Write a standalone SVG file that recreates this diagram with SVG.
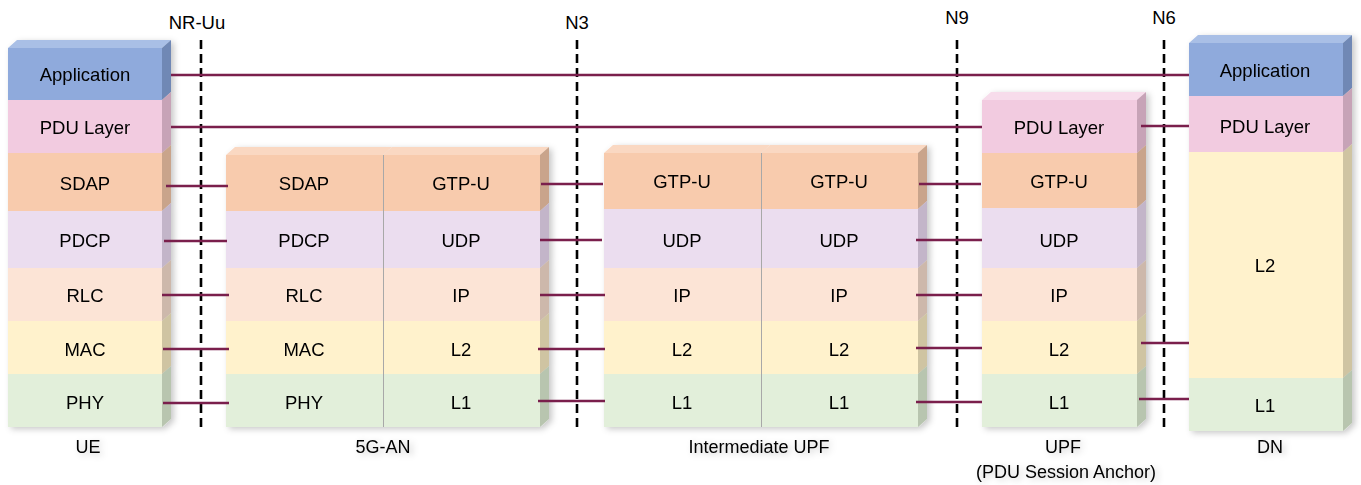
<svg xmlns="http://www.w3.org/2000/svg" width="1361" height="485" viewBox="0 0 1361 485">
<defs>
<filter id="sh" x="-10%" y="-10%" width="130%" height="130%">
<feDropShadow dx="3" dy="2" stdDeviation="3" flood-color="#000" flood-opacity="0.22"/>
</filter>
</defs>
<style>
text{font-family:"Liberation Sans",Arial,sans-serif;font-size:18.5px;fill:#000;text-anchor:middle}
.lbl{font-size:18px}
.app .f{fill:#8FAADC}.app .t{fill:#A9BFE6}.app .s{fill:#6F88B5}
.pdu .f{fill:#F2CBE0}.pdu .t{fill:#F7DCEB}.pdu .s{fill:#C7A3B7}
.sdap .f{fill:#F8CBAD}.sdap .t{fill:#FAD8C2}.sdap .s{fill:#C9A48B}
.pdcp .f{fill:#EBDDEF}.pdcp .t{fill:#F2E8F4}.pdcp .s{fill:#C3B5C9}
.rlc .f{fill:#FCE4D6}.rlc .t{fill:#FDEDE4}.rlc .s{fill:#CDB8AB}
.mac .f{fill:#FFF2CC}.mac .t{fill:#FFF7DE}.mac .s{fill:#CFC4A2}
.phy .f{fill:#E2EFDA}.phy .t{fill:#ECF4E6}.phy .s{fill:#B8C5AF}
.div{stroke:#A8A8A8;stroke-width:1}
.dash{stroke:#000;stroke-width:2.6;stroke-dasharray:9 5;fill:none}
.c{stroke:#7A1F4C;stroke-width:2.6;fill:none}
</style>

<g id="interfaces">
<line class="dash" x1="201" y1="40" x2="201" y2="427"/>
<line class="dash" x1="577" y1="40" x2="577" y2="427"/>
<line class="dash" x1="957" y1="40" x2="957" y2="427"/>
<line class="dash" x1="1164" y1="40" x2="1164" y2="427"/>
<text x="197" y="29">NR-Uu</text>
<text x="577" y="29">N3</text>
<text x="957" y="24">N9</text>
<text x="1164" y="24">N6</text>
</g>

<g id="UE" filter="url(#sh)">
<g id="ue-app" class="app">
<polygon class="t" points="8,48 17,40 171,40 162,48"/>
<rect class="f" x="8" y="48" width="154" height="52"/>
<polygon class="s" points="162,48 171,40 171,92 162,100"/>
<text x="85" y="81">Application</text>
</g>
<g id="ue-pdu" class="pdu">
<rect class="f" x="8" y="100" width="154" height="53"/>
<polygon class="s" points="162,100 171,92 171,145 162,153"/>
<text x="85" y="134">PDU Layer</text>
</g>
<g id="ue-sdap" class="sdap">
<rect class="f" x="8" y="153" width="154" height="58"/>
<polygon class="s" points="162,153 171,145 171,203 162,211"/>
<text x="85" y="190">SDAP</text>
</g>
<g id="ue-pdcp" class="pdcp">
<rect class="f" x="8" y="211" width="154" height="57"/>
<polygon class="s" points="162,211 171,203 171,260 162,268"/>
<text x="85" y="247">PDCP</text>
</g>
<g id="ue-rlc" class="rlc">
<rect class="f" x="8" y="268" width="154" height="53"/>
<polygon class="s" points="162,268 171,260 171,313 162,321"/>
<text x="85" y="302">RLC</text>
</g>
<g id="ue-mac" class="mac">
<rect class="f" x="8" y="321" width="154" height="53"/>
<polygon class="s" points="162,321 171,313 171,366 162,374"/>
<text x="85" y="356">MAC</text>
</g>
<g id="ue-phy" class="phy">
<rect class="f" x="8" y="374" width="154" height="53"/>
<polygon class="s" points="162,374 171,366 171,419 162,427"/>
<text x="85" y="409">PHY</text>
</g>
<text class="lbl" x="88" y="453">UE</text>
</g>

<g id="AN" filter="url(#sh)">
<g id="an-sdap" class="sdap">
<polygon class="t" points="226,155 235,147 392,147 383,155"/>
<rect class="f" x="226" y="155" width="157" height="56"/>
<text x="304" y="190">SDAP</text>
</g>
<g id="an-pdcp" class="pdcp">
<rect class="f" x="226" y="211" width="157" height="57"/>
<text x="304" y="247">PDCP</text>
</g>
<g id="an-rlc" class="rlc">
<rect class="f" x="226" y="268" width="157" height="53"/>
<text x="304" y="302">RLC</text>
</g>
<g id="an-mac" class="mac">
<rect class="f" x="226" y="321" width="157" height="53"/>
<text x="304" y="356">MAC</text>
</g>
<g id="an-phy" class="phy">
<rect class="f" x="226" y="374" width="157" height="53"/>
<text x="304" y="409">PHY</text>
</g>
<g id="an-gtpu" class="sdap">
<polygon class="t" points="383,155 392,147 549,147 540,155"/>
<rect class="f" x="383" y="155" width="157" height="56"/>
<polygon class="s" points="540,155 549,147 549,203 540,211"/>
<text x="461" y="190">GTP-U</text>
</g>
<g id="an-udp" class="pdcp">
<rect class="f" x="383" y="211" width="157" height="57"/>
<polygon class="s" points="540,211 549,203 549,260 540,268"/>
<text x="461" y="247">UDP</text>
</g>
<g id="an-ip" class="rlc">
<rect class="f" x="383" y="268" width="157" height="53"/>
<polygon class="s" points="540,268 549,260 549,313 540,321"/>
<text x="461" y="302">IP</text>
</g>
<g id="an-l2" class="mac">
<rect class="f" x="383" y="321" width="157" height="53"/>
<polygon class="s" points="540,321 549,313 549,366 540,374"/>
<text x="461" y="356">L2</text>
</g>
<g id="an-l1" class="phy">
<rect class="f" x="383" y="374" width="157" height="53"/>
<polygon class="s" points="540,374 549,366 549,419 540,427"/>
<text x="461" y="409">L1</text>
</g>
<line class="div" x1="383.5" y1="155" x2="383.5" y2="427"/>
<text class="lbl" x="383" y="453">5G-AN</text>
</g>

<g id="IUPF" filter="url(#sh)">
<g id="iu-gtpu1" class="sdap">
<polygon class="t" points="604,153 613,145 770,145 761,153"/>
<rect class="f" x="604" y="153" width="157" height="56"/>
<text x="682" y="188">GTP-U</text>
</g>
<g id="iu-udp1" class="pdcp">
<rect class="f" x="604" y="209" width="157" height="59"/>
<text x="682" y="247">UDP</text>
</g>
<g id="iu-ip1" class="rlc">
<rect class="f" x="604" y="268" width="157" height="53"/>
<text x="682" y="302">IP</text>
</g>
<g id="iu-l21" class="mac">
<rect class="f" x="604" y="321" width="157" height="53"/>
<text x="682" y="356">L2</text>
</g>
<g id="iu-l11" class="phy">
<rect class="f" x="604" y="374" width="157" height="53"/>
<text x="682" y="409">L1</text>
</g>
<g id="iu-gtpu2" class="sdap">
<polygon class="t" points="761,153 770,145 927,145 918,153"/>
<rect class="f" x="761" y="153" width="157" height="56"/>
<polygon class="s" points="918,153 927,145 927,201 918,209"/>
<text x="839" y="188">GTP-U</text>
</g>
<g id="iu-udp2" class="pdcp">
<rect class="f" x="761" y="209" width="157" height="59"/>
<polygon class="s" points="918,209 927,201 927,260 918,268"/>
<text x="839" y="247">UDP</text>
</g>
<g id="iu-ip2" class="rlc">
<rect class="f" x="761" y="268" width="157" height="53"/>
<polygon class="s" points="918,268 927,260 927,313 918,321"/>
<text x="839" y="302">IP</text>
</g>
<g id="iu-l22" class="mac">
<rect class="f" x="761" y="321" width="157" height="53"/>
<polygon class="s" points="918,321 927,313 927,366 918,374"/>
<text x="839" y="356">L2</text>
</g>
<g id="iu-l12" class="phy">
<rect class="f" x="761" y="374" width="157" height="53"/>
<polygon class="s" points="918,374 927,366 927,419 918,427"/>
<text x="839" y="409">L1</text>
</g>
<line class="div" x1="761.5" y1="153" x2="761.5" y2="427"/>
<text class="lbl" x="759" y="453">Intermediate UPF</text>
</g>

<g id="UPF" filter="url(#sh)">
<g id="upf-pdu" class="pdu">
<polygon class="t" points="982,100 991,92 1146,92 1137,100"/>
<rect class="f" x="982" y="100" width="155" height="53"/>
<polygon class="s" points="1137,100 1146,92 1146,145 1137,153"/>
<text x="1059" y="134">PDU Layer</text>
</g>
<g id="upf-gtpu" class="sdap">
<rect class="f" x="982" y="153" width="155" height="55"/>
<polygon class="s" points="1137,153 1146,145 1146,200 1137,208"/>
<text x="1059" y="188">GTP-U</text>
</g>
<g id="upf-udp" class="pdcp">
<rect class="f" x="982" y="208" width="155" height="60"/>
<polygon class="s" points="1137,208 1146,200 1146,260 1137,268"/>
<text x="1059" y="247">UDP</text>
</g>
<g id="upf-ip" class="rlc">
<rect class="f" x="982" y="268" width="155" height="53"/>
<polygon class="s" points="1137,268 1146,260 1146,313 1137,321"/>
<text x="1059" y="302">IP</text>
</g>
<g id="upf-l2" class="mac">
<rect class="f" x="982" y="321" width="155" height="53"/>
<polygon class="s" points="1137,321 1146,313 1146,366 1137,374"/>
<text x="1059" y="356">L2</text>
</g>
<g id="upf-l1" class="phy">
<rect class="f" x="982" y="374" width="155" height="53"/>
<polygon class="s" points="1137,374 1146,366 1146,419 1137,427"/>
<text x="1059" y="409">L1</text>
</g>
<text class="lbl" x="1063" y="453">UPF</text>
<text class="lbl" x="1066" y="478">(PDU Session Anchor)</text>
</g>

<g id="DN" filter="url(#sh)">
<g id="dn-app" class="app">
<polygon class="t" points="1189,43 1198,35 1352,35 1343,43"/>
<rect class="f" x="1189" y="43" width="154" height="53"/>
<polygon class="s" points="1343,43 1352,35 1352,88 1343,96"/>
<text x="1265" y="77">Application</text>
</g>
<g id="dn-pdu" class="pdu">
<rect class="f" x="1189" y="96" width="154" height="56"/>
<polygon class="s" points="1343,96 1352,88 1352,144 1343,152"/>
<text x="1265" y="133">PDU Layer</text>
</g>
<g id="dn-l2" class="mac">
<rect class="f" x="1189" y="152" width="154" height="226"/>
<polygon class="s" points="1343,152 1352,144 1352,370 1343,378"/>
<text x="1265" y="272">L2</text>
</g>
<g id="dn-l1" class="phy">
<rect class="f" x="1189" y="378" width="154" height="53"/>
<polygon class="s" points="1343,378 1352,370 1352,423 1343,431"/>
<text x="1265" y="412">L1</text>
</g>
<text class="lbl" x="1270" y="453">DN</text>
</g>

<g id="connectors">
<line class="c" x1="171" y1="75" x2="1189" y2="75"/>
<line class="c" x1="171" y1="127" x2="982" y2="127"/>
<line class="c" x1="1141" y1="126" x2="1189" y2="126"/>
<line class="c" x1="166" y1="186" x2="228" y2="186"/>
<line class="c" x1="164" y1="241" x2="227" y2="241"/>
<line class="c" x1="162" y1="295" x2="229" y2="295"/>
<line class="c" x1="163" y1="349" x2="229" y2="349"/>
<line class="c" x1="163" y1="403" x2="229" y2="403"/>
<line class="c" x1="541" y1="184" x2="603" y2="184"/>
<line class="c" x1="540" y1="240" x2="602" y2="240"/>
<line class="c" x1="540" y1="295" x2="605" y2="295"/>
<line class="c" x1="538" y1="349" x2="605" y2="349"/>
<line class="c" x1="538" y1="401" x2="605" y2="401"/>
<line class="c" x1="919" y1="184" x2="981" y2="184"/>
<line class="c" x1="916" y1="240" x2="982" y2="240"/>
<line class="c" x1="916" y1="295" x2="982" y2="295"/>
<line class="c" x1="916" y1="348" x2="982" y2="348"/>
<line class="c" x1="916" y1="402" x2="982" y2="402"/>
<line class="c" x1="1141" y1="343" x2="1189" y2="343"/>
<line class="c" x1="1139" y1="399" x2="1189" y2="399"/>
</g>
</svg>
